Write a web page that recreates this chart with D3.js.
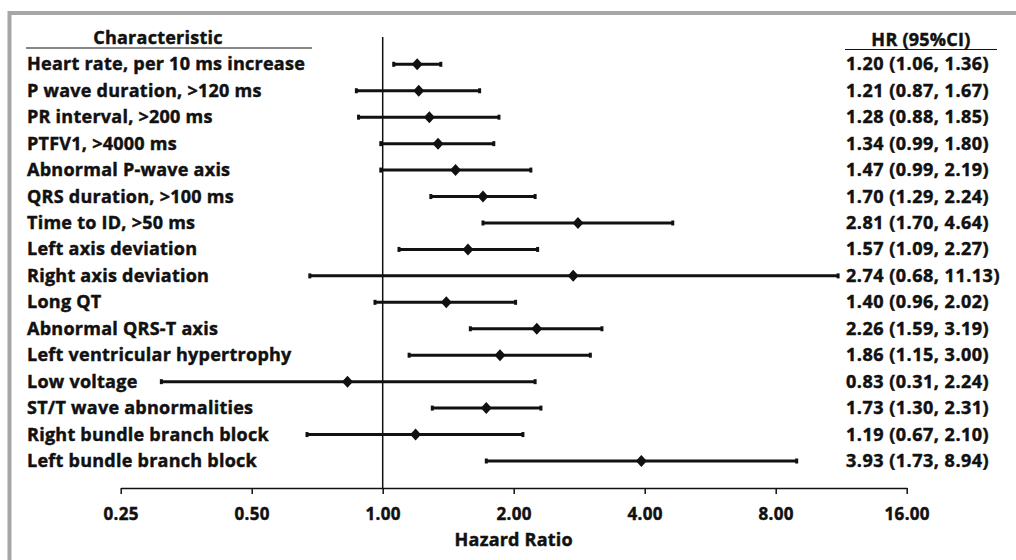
<!DOCTYPE html>
<html>
<head>
<meta charset="utf-8">
<script src="https://cdn.jsdelivr.net/npm/d3@7"></script>
<style>
  body { margin: 0; background: #fff; }
  svg text { font-family: "Open Sans", sans-serif; font-weight: 700; fill: #111; stroke: #111; stroke-width: 0.45px; }
  .row-label { font-size: 18px; letter-spacing: 0.25px; }
  .ci-label { font-size: 18px; letter-spacing: 0.5px; }
  .head { font-size: 18px; letter-spacing: 0.25px; }
  .axis text { font-size: 17px; letter-spacing: 0.3px; }
</style>
</head>
<body>
<div class="graphic"></div>
<script>
// characteristics, top to bottom
const labels = [
  "Heart rate, per 10 ms increase",
  "P wave duration, >120 ms",
  "PR interval, >200 ms",
  "PTFV1, >4000 ms",
  "Abnormal P-wave axis",
  "QRS duration, >100 ms",
  "Time to ID, >50 ms",
  "Left axis deviation",
  "Right axis deviation",
  "Long QT",
  "Abnormal QRS-T axis",
  "Left ventricular hypertrophy",
  "Low voltage",
  "ST/T wave abnormalities",
  "Right bundle branch block",
  "Left bundle branch block"
];
const hr =    [1.20, 1.21, 1.28, 1.34, 1.47, 1.70, 2.81, 1.57, 2.74, 1.40, 2.26, 1.86, 0.83, 1.73, 1.19, 3.93];
const lower = [1.06, 0.87, 0.88, 0.99, 0.99, 1.29, 1.70, 1.09, 0.68, 0.96, 1.59, 1.15, 0.31, 1.30, 0.67, 1.73];
const upper = [1.36, 1.67, 1.85, 1.80, 2.19, 2.24, 4.64, 2.27, 11.13, 2.02, 3.19, 3.00, 2.24, 2.31, 2.10, 8.94];
const ciText = [
  "1.20 (1.06, 1.36)", "1.21 (0.87, 1.67)", "1.28 (0.88, 1.85)", "1.34 (0.99, 1.80)",
  "1.47 (0.99, 2.19)", "1.70 (1.29, 2.24)", "2.81 (1.70, 4.64)", "1.57 (1.09, 2.27)",
  "2.74 (0.68, 11.13)", "1.40 (0.96, 2.02)", "2.26 (1.59, 3.19)", "1.86 (1.15, 3.00)",
  "0.83 (0.31, 2.24)", "1.73 (1.30, 2.31)", "1.19 (0.67, 2.10)", "3.93 (1.73, 8.94)"
];
const ticks = [0.25, 0.5, 1, 2, 4, 8, 16];

const width = 1016, height = 560;

const svg = d3.select(".graphic").append("svg")
    .attr("width", width)
    .attr("height", height);

// grey frame, only left and top edges show
svg.append("path")
    .attr("d", "M9.5 " + height + " L9.5 13 L" + width + " 13")
    .attr("fill", "none")
    .attr("stroke", "#a6a6a6")
    .attr("stroke-width", 4);

const x = d3.scaleLog().base(2)
    .domain([0.25, 16])
    .range([120.7, 906.7]);

const y = d3.scalePoint()
    .domain(d3.range(labels.length))
    .range([64.3, 461]);

// headers
svg.append("text").attr("class", "head")
    .attr("x", 158).attr("y", 44)
    .attr("text-anchor", "middle")
    .text("Characteristic");
svg.append("line")
    .attr("x1", 26).attr("x2", 312).attr("y1", 48).attr("y2", 48)
    .attr("stroke", "#111").attr("stroke-width", 1.2);

svg.append("text").attr("class", "head")
    .attr("x", 921).attr("y", 45.5)
    .attr("text-anchor", "middle")
    .text("HR (95%CI)");
svg.append("line")
    .attr("x1", 845).attr("x2", 997).attr("y1", 49.5).attr("y2", 49.5)
    .attr("stroke", "#111").attr("stroke-width", 1.2);

// reference line at HR = 1
svg.append("line")
    .attr("x1", x(1)).attr("x2", x(1))
    .attr("y1", 37).attr("y2", 488)
    .attr("stroke", "#111").attr("stroke-width", 1.5);

// x axis
const axis = svg.append("g")
    .attr("class", "axis")
    .attr("transform", "translate(0,488)")
    .call(d3.axisBottom(x).tickValues(ticks).tickFormat(d3.format(".2f")).tickSize(6).tickSizeOuter(0));
axis.select(".domain").attr("stroke", "#111").attr("stroke-width", 1.5);
axis.selectAll(".tick line").attr("stroke", "#111").attr("stroke-width", 1.5);
axis.selectAll(".tick text").attr("dy", 0).attr("y", 32).attr("fill", "#111");

svg.append("text")
    .attr("x", x(2)).attr("y", 546)
    .attr("text-anchor", "middle")
    .style("font-size", "18px")
    .style("letter-spacing", "0.2px")
    .text("Hazard Ratio");

// rows
const rows = svg.selectAll("g.row")
    .data(labels)
    .enter()
    .append("g")
    .attr("class", "row")
    .attr("transform", (d, i) => "translate(0," + y(i) + ")");

rows.append("text")
    .attr("class", "row-label")
    .attr("x", 27).attr("y", 6)
    .text(d => d);

rows.append("text")
    .attr("class", "ci-label")
    .attr("x", 846).attr("y", 6)
    .text((d, i) => ciText[i]);

rows.append("line")
    .attr("x1", (d, i) => x(lower[i]))
    .attr("x2", (d, i) => x(upper[i]))
    .attr("stroke", "#111")
    .attr("stroke-width", 3);

// end caps
rows.append("rect")
    .attr("x", (d, i) => x(lower[i]) - 1.5)
    .attr("y", -2.5).attr("width", 3).attr("height", 5)
    .attr("fill", "#111");
rows.append("rect")
    .attr("x", (d, i) => x(upper[i]) - 1.5)
    .attr("y", -2.5).attr("width", 3).attr("height", 5)
    .attr("fill", "#111");

// diamonds
rows.append("path")
    .attr("d", (d, i) => {
        const cx = x(hr[i]);
        return "M" + (cx - 5.5) + " 0 L" + cx + " -6 L" + (cx + 5.5) + " 0 L" + cx + " 6 Z";
    })
    .attr("fill", "#111");
</script>
</body>
</html>
